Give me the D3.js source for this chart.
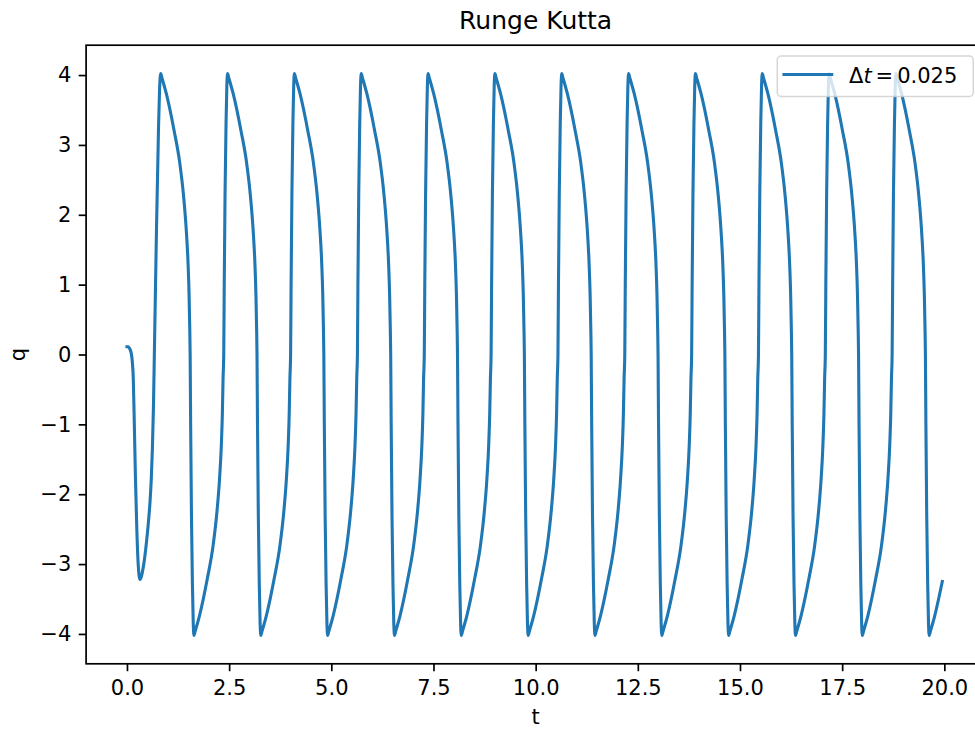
<!DOCTYPE html>
<html>
<head>
<meta charset="utf-8">
<script src="https://cdn.jsdelivr.net/npm/d3@7"></script>
<style>
  body { margin: 0; background: #fff; }
  svg { display: block; }
  text { font-family: "DejaVu Sans", sans-serif; }
</style>
</head>
<body>
<svg id="chart" width="975" height="731"></svg>
<script>
// ---- chart texts ----
const chartTitle = "Runge Kutta";
const xLabel = "t";
const yLabel = "q";
const legendStep = "0.025";

// ---- axis ticks ----
const xTicks = [0, 2.5, 5, 7.5, 10, 12.5, 15, 17.5, 20];
const yTicks = [-4, -3, -2, -1, 0, 1, 2, 3, 4];
const xDomain = [-1, 21];
const yDomain = [-4.4275, 4.4275];

// ---- q(t) samples, Runge Kutta solution, one half-swing per row ----
const samples = [
  [0, 0.11], [0.03, 0.11], [0.06, 0.09], [0.10, 0.03], [0.13, -0.10], [0.155, -0.35], [0.18, -1.00], [0.205, -1.70], [0.237, -2.42], [0.27, -2.95], [0.318, -3.22],
  [0.40, -3.04], [0.482, -2.66], [0.525, -2.40], [0.563, -2.12], [0.595, -1.78], [0.622, -1.35], [0.648, -0.75], [0.670, 0], [0.722, 1.78], [0.771, 3.22], [0.798, 3.80],
  [0.825, 4.02], [0.855, 3.96], [0.895, 3.88], [0.960, 3.74], [1.155, 3.20], [1.290, 2.75], [1.388, 2.25], [1.449, 1.80], [1.495, 1.30], [1.520, 0.85], [1.537, 0.35], [1.546, 0], [1.558, -1.00], [1.578, -2.30], [1.602, -3.30], [1.622, -3.85],
  [1.639, -4.02], [1.669, -3.96], [1.709, -3.88], [1.774, -3.74], [1.969, -3.20], [2.104, -2.75], [2.202, -2.25], [2.263, -1.80], [2.309, -1.30], [2.334, -0.85], [2.351, -0.35], [2.368, 0], [2.380, 1.00], [2.400, 2.30], [2.424, 3.30], [2.444, 3.85],
  [2.461, 4.02], [2.491, 3.96], [2.531, 3.88], [2.596, 3.74], [2.791, 3.20], [2.926, 2.75], [3.024, 2.25], [3.085, 1.80], [3.131, 1.30], [3.156, 0.85], [3.173, 0.35], [3.182, 0], [3.194, -1.00], [3.214, -2.30], [3.238, -3.30], [3.258, -3.85],
  [3.275, -4.02], [3.305, -3.96], [3.345, -3.88], [3.410, -3.74], [3.605, -3.20], [3.740, -2.75], [3.838, -2.25], [3.899, -1.80], [3.945, -1.30], [3.970, -0.85], [3.987, -0.35], [4.004, 0], [4.016, 1.00], [4.036, 2.30], [4.060, 3.30], [4.080, 3.85],
  [4.096, 4.02], [4.126, 3.96], [4.166, 3.88], [4.231, 3.74], [4.426, 3.20], [4.561, 2.75], [4.659, 2.25], [4.720, 1.80], [4.766, 1.30], [4.791, 0.85], [4.808, 0.35], [4.817, 0], [4.829, -1.00], [4.849, -2.30], [4.873, -3.30], [4.893, -3.85],
  [4.910, -4.02], [4.940, -3.96], [4.980, -3.88], [5.045, -3.74], [5.240, -3.20], [5.375, -2.75], [5.473, -2.25], [5.534, -1.80], [5.580, -1.30], [5.605, -0.85], [5.622, -0.35], [5.639, 0], [5.651, 1.00], [5.671, 2.30], [5.695, 3.30], [5.715, 3.85],
  [5.732, 4.02], [5.762, 3.96], [5.802, 3.88], [5.867, 3.74], [6.062, 3.20], [6.197, 2.75], [6.295, 2.25], [6.356, 1.80], [6.402, 1.30], [6.427, 0.85], [6.444, 0.35], [6.453, 0], [6.465, -1.00], [6.485, -2.30], [6.509, -3.30], [6.529, -3.85],
  [6.546, -4.02], [6.576, -3.96], [6.616, -3.88], [6.681, -3.74], [6.876, -3.20], [7.011, -2.75], [7.109, -2.25], [7.170, -1.80], [7.216, -1.30], [7.241, -0.85], [7.258, -0.35], [7.275, 0], [7.287, 1.00], [7.307, 2.30], [7.331, 3.30], [7.351, 3.85],
  [7.367, 4.02], [7.397, 3.96], [7.437, 3.88], [7.502, 3.74], [7.697, 3.20], [7.832, 2.75], [7.930, 2.25], [7.991, 1.80], [8.037, 1.30], [8.062, 0.85], [8.079, 0.35], [8.088, 0], [8.100, -1.00], [8.120, -2.30], [8.144, -3.30], [8.164, -3.85],
  [8.181, -4.02], [8.211, -3.96], [8.251, -3.88], [8.316, -3.74], [8.511, -3.20], [8.646, -2.75], [8.744, -2.25], [8.805, -1.80], [8.851, -1.30], [8.876, -0.85], [8.893, -0.35], [8.910, 0], [8.922, 1.00], [8.942, 2.30], [8.966, 3.30], [8.986, 3.85],
  [9.003, 4.02], [9.033, 3.96], [9.073, 3.88], [9.138, 3.74], [9.333, 3.20], [9.468, 2.75], [9.566, 2.25], [9.627, 1.80], [9.673, 1.30], [9.698, 0.85], [9.715, 0.35], [9.724, 0], [9.736, -1.00], [9.756, -2.30], [9.780, -3.30], [9.800, -3.85],
  [9.817, -4.02], [9.847, -3.96], [9.887, -3.88], [9.952, -3.74], [10.147, -3.20], [10.282, -2.75], [10.380, -2.25], [10.441, -1.80], [10.487, -1.30], [10.512, -0.85], [10.529, -0.35], [10.546, 0], [10.558, 1.00], [10.578, 2.30], [10.602, 3.30], [10.622, 3.85],
  [10.638, 4.02], [10.668, 3.96], [10.708, 3.88], [10.773, 3.74], [10.968, 3.20], [11.103, 2.75], [11.201, 2.25], [11.262, 1.80], [11.308, 1.30], [11.333, 0.85], [11.350, 0.35], [11.359, 0], [11.371, -1.00], [11.391, -2.30], [11.415, -3.30], [11.435, -3.85],
  [11.452, -4.02], [11.482, -3.96], [11.522, -3.88], [11.587, -3.74], [11.782, -3.20], [11.917, -2.75], [12.015, -2.25], [12.076, -1.80], [12.122, -1.30], [12.147, -0.85], [12.164, -0.35], [12.181, 0], [12.193, 1.00], [12.213, 2.30], [12.237, 3.30], [12.257, 3.85],
  [12.274, 4.02], [12.304, 3.96], [12.344, 3.88], [12.409, 3.74], [12.604, 3.20], [12.739, 2.75], [12.837, 2.25], [12.898, 1.80], [12.944, 1.30], [12.969, 0.85], [12.986, 0.35], [12.995, 0], [13.007, -1.00], [13.027, -2.30], [13.051, -3.30], [13.071, -3.85],
  [13.088, -4.02], [13.118, -3.96], [13.158, -3.88], [13.223, -3.74], [13.418, -3.20], [13.553, -2.75], [13.651, -2.25], [13.712, -1.80], [13.758, -1.30], [13.783, -0.85], [13.800, -0.35], [13.817, 0], [13.829, 1.00], [13.849, 2.30], [13.873, 3.30], [13.893, 3.85],
  [13.909, 4.02], [13.939, 3.96], [13.979, 3.88], [14.044, 3.74], [14.239, 3.20], [14.374, 2.75], [14.472, 2.25], [14.533, 1.80], [14.579, 1.30], [14.604, 0.85], [14.621, 0.35], [14.630, 0], [14.642, -1.00], [14.662, -2.30], [14.686, -3.30], [14.706, -3.85],
  [14.723, -4.02], [14.753, -3.96], [14.793, -3.88], [14.858, -3.74], [15.053, -3.20], [15.188, -2.75], [15.286, -2.25], [15.347, -1.80], [15.393, -1.30], [15.418, -0.85], [15.435, -0.35], [15.452, 0], [15.464, 1.00], [15.484, 2.30], [15.508, 3.30], [15.528, 3.85],
  [15.545, 4.02], [15.575, 3.96], [15.615, 3.88], [15.680, 3.74], [15.875, 3.20], [16.010, 2.75], [16.108, 2.25], [16.169, 1.80], [16.215, 1.30], [16.240, 0.85], [16.257, 0.35], [16.266, 0], [16.278, -1.00], [16.298, -2.30], [16.322, -3.30], [16.342, -3.85],
  [16.359, -4.02], [16.389, -3.96], [16.429, -3.88], [16.494, -3.74], [16.689, -3.20], [16.824, -2.75], [16.922, -2.25], [16.983, -1.80], [17.029, -1.30], [17.054, -0.85], [17.071, -0.35], [17.088, 0], [17.100, 1.00], [17.120, 2.30], [17.144, 3.30], [17.164, 3.85],
  [17.180, 4.02], [17.210, 3.96], [17.250, 3.88], [17.315, 3.74], [17.510, 3.20], [17.645, 2.75], [17.743, 2.25], [17.804, 1.80], [17.850, 1.30], [17.875, 0.85], [17.892, 0.35], [17.901, 0], [17.913, -1.00], [17.933, -2.30], [17.957, -3.30], [17.977, -3.85],
  [17.994, -4.02], [18.024, -3.96], [18.064, -3.88], [18.129, -3.74], [18.324, -3.20], [18.459, -2.75], [18.557, -2.25], [18.618, -1.80], [18.664, -1.30], [18.689, -0.85], [18.706, -0.35], [18.723, 0], [18.735, 1.00], [18.755, 2.30], [18.779, 3.30], [18.799, 3.85],
  [18.816, 4.02], [18.846, 3.96], [18.886, 3.88], [18.951, 3.74], [19.146, 3.20], [19.281, 2.75], [19.379, 2.25], [19.440, 1.80], [19.486, 1.30], [19.511, 0.85], [19.528, 0.35], [19.537, 0], [19.549, -1.00], [19.569, -2.30], [19.593, -3.30], [19.613, -3.85],
  [19.630, -4.02], [19.660, -3.96], [19.700, -3.88], [19.765, -3.74], [19.950, -3.25]
];

// ---- layout ----
const plot = { left: 86.1, right: 985.2, top: 45.2, bottom: 663.8 };
const fs = 21;          // tick / label font size (px)
const lineColor = "#1f77b4";

const svg = d3.select("#chart");

const x = d3.scaleLinear().domain(xDomain).range([plot.left, plot.right]);
const y = d3.scaleLinear().domain(yDomain).range([plot.bottom, plot.top]);

// clip region = axes area
svg.append("defs").append("clipPath").attr("id", "axes-clip")
  .append("rect")
  .attr("x", plot.left).attr("y", plot.top)
  .attr("width", plot.right - plot.left).attr("height", plot.bottom - plot.top);

// ---- data line ----
const line = d3.line()
  .x(d => x(d[0]))
  .y(d => y(d[1]))
  .curve(d3.curveMonotoneX);

svg.append("path")
  .datum(samples)
  .attr("clip-path", "url(#axes-clip)")
  .attr("d", line)
  .attr("fill", "none")
  .attr("stroke", lineColor)
  .attr("stroke-width", 3.1)
  .attr("stroke-linejoin", "round")
  .attr("stroke-linecap", "square");

// ---- axes ----
const xAxis = svg.append("g")
  .attr("transform", `translate(0,${plot.bottom})`)
  .call(d3.axisBottom(x).tickValues(xTicks).tickFormat(d3.format(".1f")).tickSize(7.4).tickPadding(9));

const yAxis = svg.append("g")
  .attr("transform", `translate(${plot.left},0)`)
  .call(d3.axisLeft(y).tickValues(yTicks).tickFormat(d3.format("d")).tickSize(7.4).tickPadding(7.4));

[xAxis, yAxis].forEach(g => {
  g.select(".domain").remove();
  g.selectAll(".tick line").attr("stroke", "#000").attr("stroke-width", 1.7);
  g.selectAll(".tick text")
    .attr("fill", "#000")
    .style("font-size", fs + "px")
    .style("font-family", "'DejaVu Sans', sans-serif");
});

// axes frame (left, top, bottom spines; right edge lies beyond the canvas)
svg.append("rect")
  .attr("x", plot.left).attr("y", plot.top)
  .attr("width", plot.right - plot.left).attr("height", plot.bottom - plot.top)
  .attr("fill", "none").attr("stroke", "#000").attr("stroke-width", 1.7);

// ---- titles ----
svg.append("text")
  .attr("x", (plot.left + plot.right) / 2).attr("y", 29)
  .attr("text-anchor", "middle")
  .style("font-size", "25px")
  .attr("fill", "#000")
  .text(chartTitle);

svg.append("text")
  .attr("x", (plot.left + plot.right) / 2).attr("y", 724)
  .attr("text-anchor", "middle")
  .style("font-size", fs + "px")
  .attr("fill", "#000")
  .text(xLabel);

svg.append("text")
  .attr("transform", `translate(25,${y(0)}) rotate(-90)`)
  .attr("text-anchor", "middle")
  .style("font-size", fs + "px")
  .attr("fill", "#000")
  .text(yLabel);

// ---- legend ----
const legend = svg.append("g");
legend.append("rect")
  .attr("x", 777.3).attr("y", 56)
  .attr("width", 196).attr("height", 40.5)
  .attr("rx", 4).attr("ry", 4)
  .attr("fill", "#fff").attr("fill-opacity", 0.8)
  .attr("stroke", "#cccccc").attr("stroke-opacity", 0.8).attr("stroke-width", 1.5);

legend.append("line")
  .attr("x1", 784).attr("x2", 831.7)
  .attr("y1", 74.5).attr("y2", 74.5)
  .attr("stroke", lineColor).attr("stroke-width", 3.1)
  .attr("stroke-linecap", "square");

const lt = legend.append("text")
  .attr("x", 849).attr("y", 82.5)
  .style("font-size", fs + "px")
  .attr("fill", "#000");
lt.append("tspan").text("\u0394");
lt.append("tspan").style("font-style", "italic").text("t");
lt.append("tspan").attr("dx", 4).text("=");
lt.append("tspan").attr("dx", 4).text(legendStep);
</script>
</body>
</html>
